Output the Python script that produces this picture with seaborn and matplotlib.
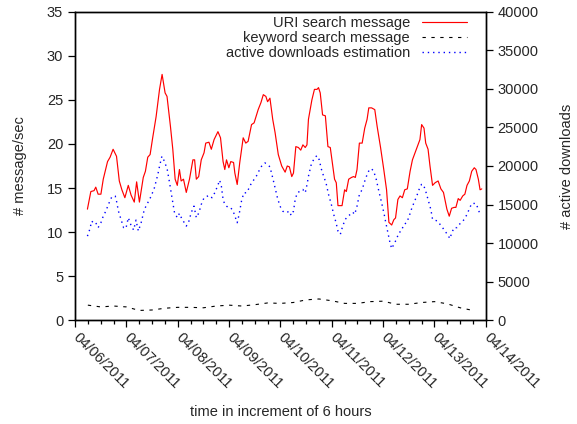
import seaborn as sns
import matplotlib.pyplot as plt

sns.set_style('ticks')
plt.rcParams['font.family'] = ['Liberation Sans', 'DejaVu Sans']

# hours since 04/06/2011 00:00
uri_hours = [5.8, 7.4, 8.9, 9.7, 10.8, 12.1, 13.2, 15.2, 16.4, 17.8, 19.4, 20.7, 21.9, 23.3,
             24.9, 26.2, 27.7, 28.8, 30.1, 31.9, 32.9, 34.0, 35.1, 36.3, 37.9, 39.5, 40.7,
             42.1, 43.0, 44.6, 45.7, 46.8, 47.8, 48.8, 49.6, 50.7, 52.0, 53.5, 55.1, 55.9,
             56.7, 57.8, 59.0, 60.3, 61.1, 62.6, 63.7, 65.0, 66.8, 68.0, 69.2, 70.0, 70.8,
             71.9, 72.8, 74.1, 74.7, 75.8, 77.0, 78.6, 79.8, 80.9, 82.5, 83.7, 85.6, 86.9,
             88.0, 89.2, 90.0, 91.1, 92.4, 93.5, 95.0, 96.6, 98.2, 99.2, 100.2, 101.3, 102.1,
             103.2, 104.4, 105.5, 106.5, 107.6, 108.4, 109.1, 110.7, 111.9, 113.1, 113.8,
             114.6, 115.7, 117.0, 118.2, 119.3, 121.3, 122.1, 122.9, 124.8, 126.0, 126.8,
             127.9, 129.2, 130.2, 131.0, 131.8, 132.9, 134.2, 135.4, 136.5, 137.3, 138.6,
             140.1, 141.2, 142.8, 144.3, 145.6, 146.7, 148.0, 149.0, 149.8, 150.9, 151.9,
             153.0, 154.1, 155.3, 156.6, 157.7, 158.9, 160.0, 161.2, 162.0, 163.1, 163.9,
             165.0, 165.9, 167.1, 168.3, 169.7, 171.0, 172.2, 173.8, 174.9, 176.0, 177.2,
             178.0, 179.1, 180.0, 181.2, 182.2, 183.2, 184.3, 185.4, 186.6, 187.4, 188.5,
             189.3, 190.1]
uri_msgs = [12.6, 14.6, 14.7, 15.1, 14.3, 14.3, 16.0, 18.0, 18.5, 19.4, 18.6, 15.8, 14.8, 13.9,
            15.3, 14.2, 13.4, 15.7, 13.4, 16.2, 16.9, 18.5, 18.8, 20.7, 23.1, 26.2, 27.9,
            25.8, 25.4, 22.0, 19.4, 16.0, 15.3, 17.1, 15.8, 16.0, 14.5, 16.0, 18.2, 18.2,
            16.0, 16.3, 18.2, 19.0, 20.1, 20.2, 19.4, 20.5, 21.4, 20.7, 18.0, 17.1, 18.2,
            17.3, 18.0, 17.9, 16.7, 15.4, 17.9, 20.7, 20.1, 20.3, 22.2, 22.4, 23.9, 24.7,
            25.6, 25.4, 24.8, 25.2, 22.8, 21.3, 18.8, 17.5, 16.8, 17.5, 17.4, 16.3, 16.7,
            19.7, 19.6, 19.3, 19.9, 19.6, 19.9, 22.8, 25.0, 26.2, 26.2, 26.4,
            25.8, 23.3, 23.2, 19.7, 19.6, 16.0, 15.6, 13.0, 13.0, 14.8, 14.6,
            16.0, 16.2, 16.3, 16.2, 17.1, 20.1, 20.1, 21.8, 22.8, 24.1, 24.1,
            23.9, 22.0, 19.6, 17.1, 14.8, 11.1, 10.8, 11.4, 11.6, 13.7, 14.1,
            13.9, 14.8, 14.9, 16.9, 18.2, 19.0, 19.7, 20.5, 22.2, 21.8, 20.1,
            19.4, 17.5, 15.3, 15.6, 15.8, 14.9, 14.5, 12.6, 11.8, 12.7, 12.8,
            12.8, 13.8, 13.6, 14.1, 14.3, 15.3, 15.8, 16.9, 17.3, 17.1, 16.0,
            14.8, 14.9]

kw_hours = [6, 12, 18, 24, 30, 36, 42, 48, 54, 60, 66, 72, 78, 84, 90, 96, 102, 108, 114,
            120, 126, 132, 138, 144, 150, 156, 162, 168, 174, 180, 186]
kw_msgs = [1.7, 1.5, 1.6, 1.5, 1.1, 1.15, 1.35, 1.45, 1.45, 1.4, 1.6, 1.7, 1.6, 1.75, 1.95,
           1.9, 2.0, 2.3, 2.4, 2.2, 1.9, 1.9, 2.1, 2.15, 1.8, 1.8, 2.0, 2.1, 1.85, 1.4, 1.1]

dl_hours = [5.8, 6.9, 7.8, 8.9, 9.7, 10.8, 12.1, 13.2, 14.4, 15.6, 17.2, 18.8, 19.4, 20.3,
            21.5, 22.7, 23.8, 24.9, 26.2, 27.4, 28.5, 29.6, 30.9, 32.4, 34.0, 35.6, 37.1,
            38.7, 39.5, 40.6, 41.8, 43.1, 44.2, 45.2, 46.5, 47.8, 48.8, 49.9, 50.9, 52.0,
            53.1, 54.3, 55.6, 56.7, 57.9, 59.0, 60.3, 61.9, 62.9, 64.0, 65.3, 66.6, 67.6,
            68.4, 69.2, 70.0, 70.8, 71.9, 72.8, 73.9, 74.7, 75.8, 76.7, 77.8, 78.9, 80.2,
            81.4, 82.5, 83.7, 85.2, 86.4, 87.7, 88.8, 89.9, 91.1, 92.4, 93.5, 94.6, 95.8,
            97.1, 98.2, 99.2, 100.2, 101.0, 102.1, 102.9, 103.9, 105.2, 106.5, 107.6, 108.6,
            109.1, 110.4, 111.9, 113.1, 114.1, 115.1, 116.2, 117.3, 118.5, 119.8, 120.9,
            122.0, 122.9, 124.0, 125.1, 126.3, 127.6, 128.7, 129.8, 130.7, 131.8, 132.9,
            134.2, 135.4, 136.5, 137.6, 138.6, 139.6, 140.8, 142.0, 143.3, 144.5, 145.1,
            146.2, 147.2, 148.0, 149.0, 150.2, 151.4, 152.5, 153.7, 155.0, 156.1, 157.2,
            158.4, 159.7, 160.8, 161.9, 162.8, 163.9, 165.0, 166.3, 167.1, 168.2, 169.4,
            170.6, 171.8, 172.8, 174.1, 175.2, 176.1, 177.2, 178.5, 179.6, 180.8, 181.9,
            183.2, 184.3, 185.4, 186.3, 187.4, 188.2, 189.3]
dl_active = [10900, 11780, 12850, 12550, 12640, 12000, 12640, 13500, 14140, 15010, 16000,
             16090, 15440, 14140, 13070, 12000, 11900, 13290, 12290, 11690, 12980, 11560,
             12640, 14360, 15230, 16090, 17170, 18890, 19970, 21260, 20610, 19540, 17820,
             16090, 13940, 13290, 13850, 13160, 12720, 12200, 12720, 13940, 14790, 13290,
             13940, 15010, 15880, 16090, 16180, 15880, 16520, 17380, 18160, 17380, 15660,
             15010, 14790, 14580, 14580, 14140, 13500, 12640, 13720, 15440, 16520, 16520,
             17170, 17820, 18250, 18890, 19630, 20190, 20400, 20190, 19890, 18460, 17170,
             15880, 14790, 14140, 13940, 14010, 14140, 13590, 14140, 15660, 16520, 16730,
             16950, 16520, 17820, 18670, 20190, 21050, 21350, 20830, 19630, 18670, 17820,
             16300, 15010, 13720, 12640, 11560, 11130, 12200, 13070, 13500, 13720, 14010,
             13720, 14790, 16300, 16950, 18030, 18890, 19540, 19630, 19320, 18250, 16730,
             15230, 13720, 12850, 11350, 10050, 9280, 9830, 10480, 11350, 11560, 12420,
             12640, 13420, 14360, 15230, 16090, 16950, 17600, 17600, 16730, 15660, 14360,
             13070, 12980, 12850, 12420, 12000, 11560, 11130, 10570, 11350, 12000, 12000,
             12420, 12720, 13070, 13720, 14450, 15140, 15140, 15140, 14580, 13720]

day_ticks = [0, 24, 48, 72, 96, 120, 144, 168, 192]
day_labels = ['04/06/2011', '04/07/2011', '04/08/2011', '04/09/2011', '04/10/2011',
              '04/11/2011', '04/12/2011', '04/13/2011', '04/14/2011']

fig = plt.figure(figsize=(5.77, 4.24), dpi=100)
ax = fig.add_axes([0.130, 0.245, 0.712, 0.727])
ax2 = ax.twinx()

sns.lineplot(x=uri_hours, y=uri_msgs, ax=ax, color='#ff0000', lw=0.85,
             label='URI search message', legend=False)
sns.lineplot(x=kw_hours, y=kw_msgs, ax=ax, color='black', lw=0.8,
             linestyle=(0, (3, 5)), label='keyword search message', legend=False)
sns.lineplot(x=dl_hours, y=dl_active, ax=ax2, color='#0000ff', lw=1.0,
             linestyle=(0, (1, 2.8)), label='active downloads estimation', legend=False)

ax.set_xlim(0, 192)
ax.set_ylim(0, 35)
ax2.set_ylim(0, 40000)
ax.set_yticks(range(0, 36, 5))
ax2.set_yticks(range(0, 40001, 5000))
ax.set_xticks(day_ticks)
ax.set_xticks(range(0, 193, 6), minor=True)
ax.set_xticklabels(day_labels, rotation=-45, ha='left', va='center', rotation_mode='anchor')

for a in (ax, ax2):
    a.tick_params(which='major', length=5, width=0.9, labelsize=10.5, direction='out', color='black')
    a.tick_params(which='minor', length=3, width=0.9, direction='out', color='black')
    for s in a.spines.values():
        s.set_linewidth(1.0)
        s.set_color('black')
ax.tick_params(axis='x', pad=6)

ax.set_xlabel('time in increment of 6 hours', fontsize=10.5)
ax.set_ylabel('# message/sec', fontsize=10.5)
ax2.set_ylabel('# active downloads', fontsize=10.5)
ax.xaxis.set_label_coords(0.5, -0.275)
ax.yaxis.set_label_coords(-0.117, 0.5)
ax2.yaxis.set_label_coords(1.18, 0.5)

h1, l1 = ax.get_legend_handles_labels()
h2, l2 = ax2.get_legend_handles_labels()
ax2.legend(h1 + h2, l1 + l2, loc='upper right', bbox_to_anchor=(0.954, 0.985),
           frameon=False, markerfirst=False, fontsize=10.5, borderpad=0,
           borderaxespad=0, handlelength=3.1, handletextpad=0.8, labelspacing=0.05)

fig.savefig('out.png', dpi=100)
